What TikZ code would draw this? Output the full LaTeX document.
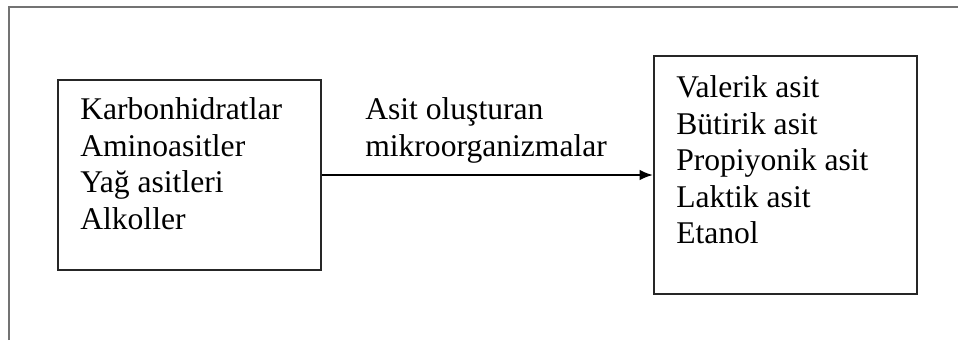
\documentclass[tikz,border=0pt]{standalone}
\usepackage{fontspec}
\setmainfont{Liberation Serif}
\usetikzlibrary{arrows.meta}
\tikzset{
	framebox/.style={line width=2pt, color=black!55},
	listbox/.style={draw=black!85, line width=1.6pt, minimum width=197.25pt},
	listtext/.style={font=\fontsize{23.7}{27.4}\selectfont, align=left, inner sep=0pt, anchor=north west},
	flowarrow/.style={line width=1.5pt, -{Latex[length=10pt, width=8pt]}}
}

\begin{document}
\begin{tikzpicture}[x=0.75pt, y=-0.75pt]
		%%%%% START %%%%%
		\useasboundingbox (0, 0) rectangle (958, 340);
		
		\draw[framebox] (9, 340) -- (9, 7) -- (958, 7);
		
		\node[listbox, minimum height=142.5pt] (substrates) at (189.5, 175) {};
		\node[listtext] (substratelist) at (80, 97.4) {Karbonhidratlar\\Aminoasitler\\Yağ asitleri\\Alkoller};
		
		\node[listbox, minimum height=178.5pt] (products) at (785.5, 175) {};
		\node[listtext] (productlist) at (676, 75.4) {Valerik asit\\Bütirik asit\\Propiyonik asit\\Laktik asit\\Etanol};
		
		\draw[flowarrow] (substrates.east) -- (products.west);
		\node[listtext] (microbes) at (365, 97.5) {Asit oluşturan\\mikroorganizmalar};
		
		%%%%% END %%%%%
\end{tikzpicture}
\end{document}
